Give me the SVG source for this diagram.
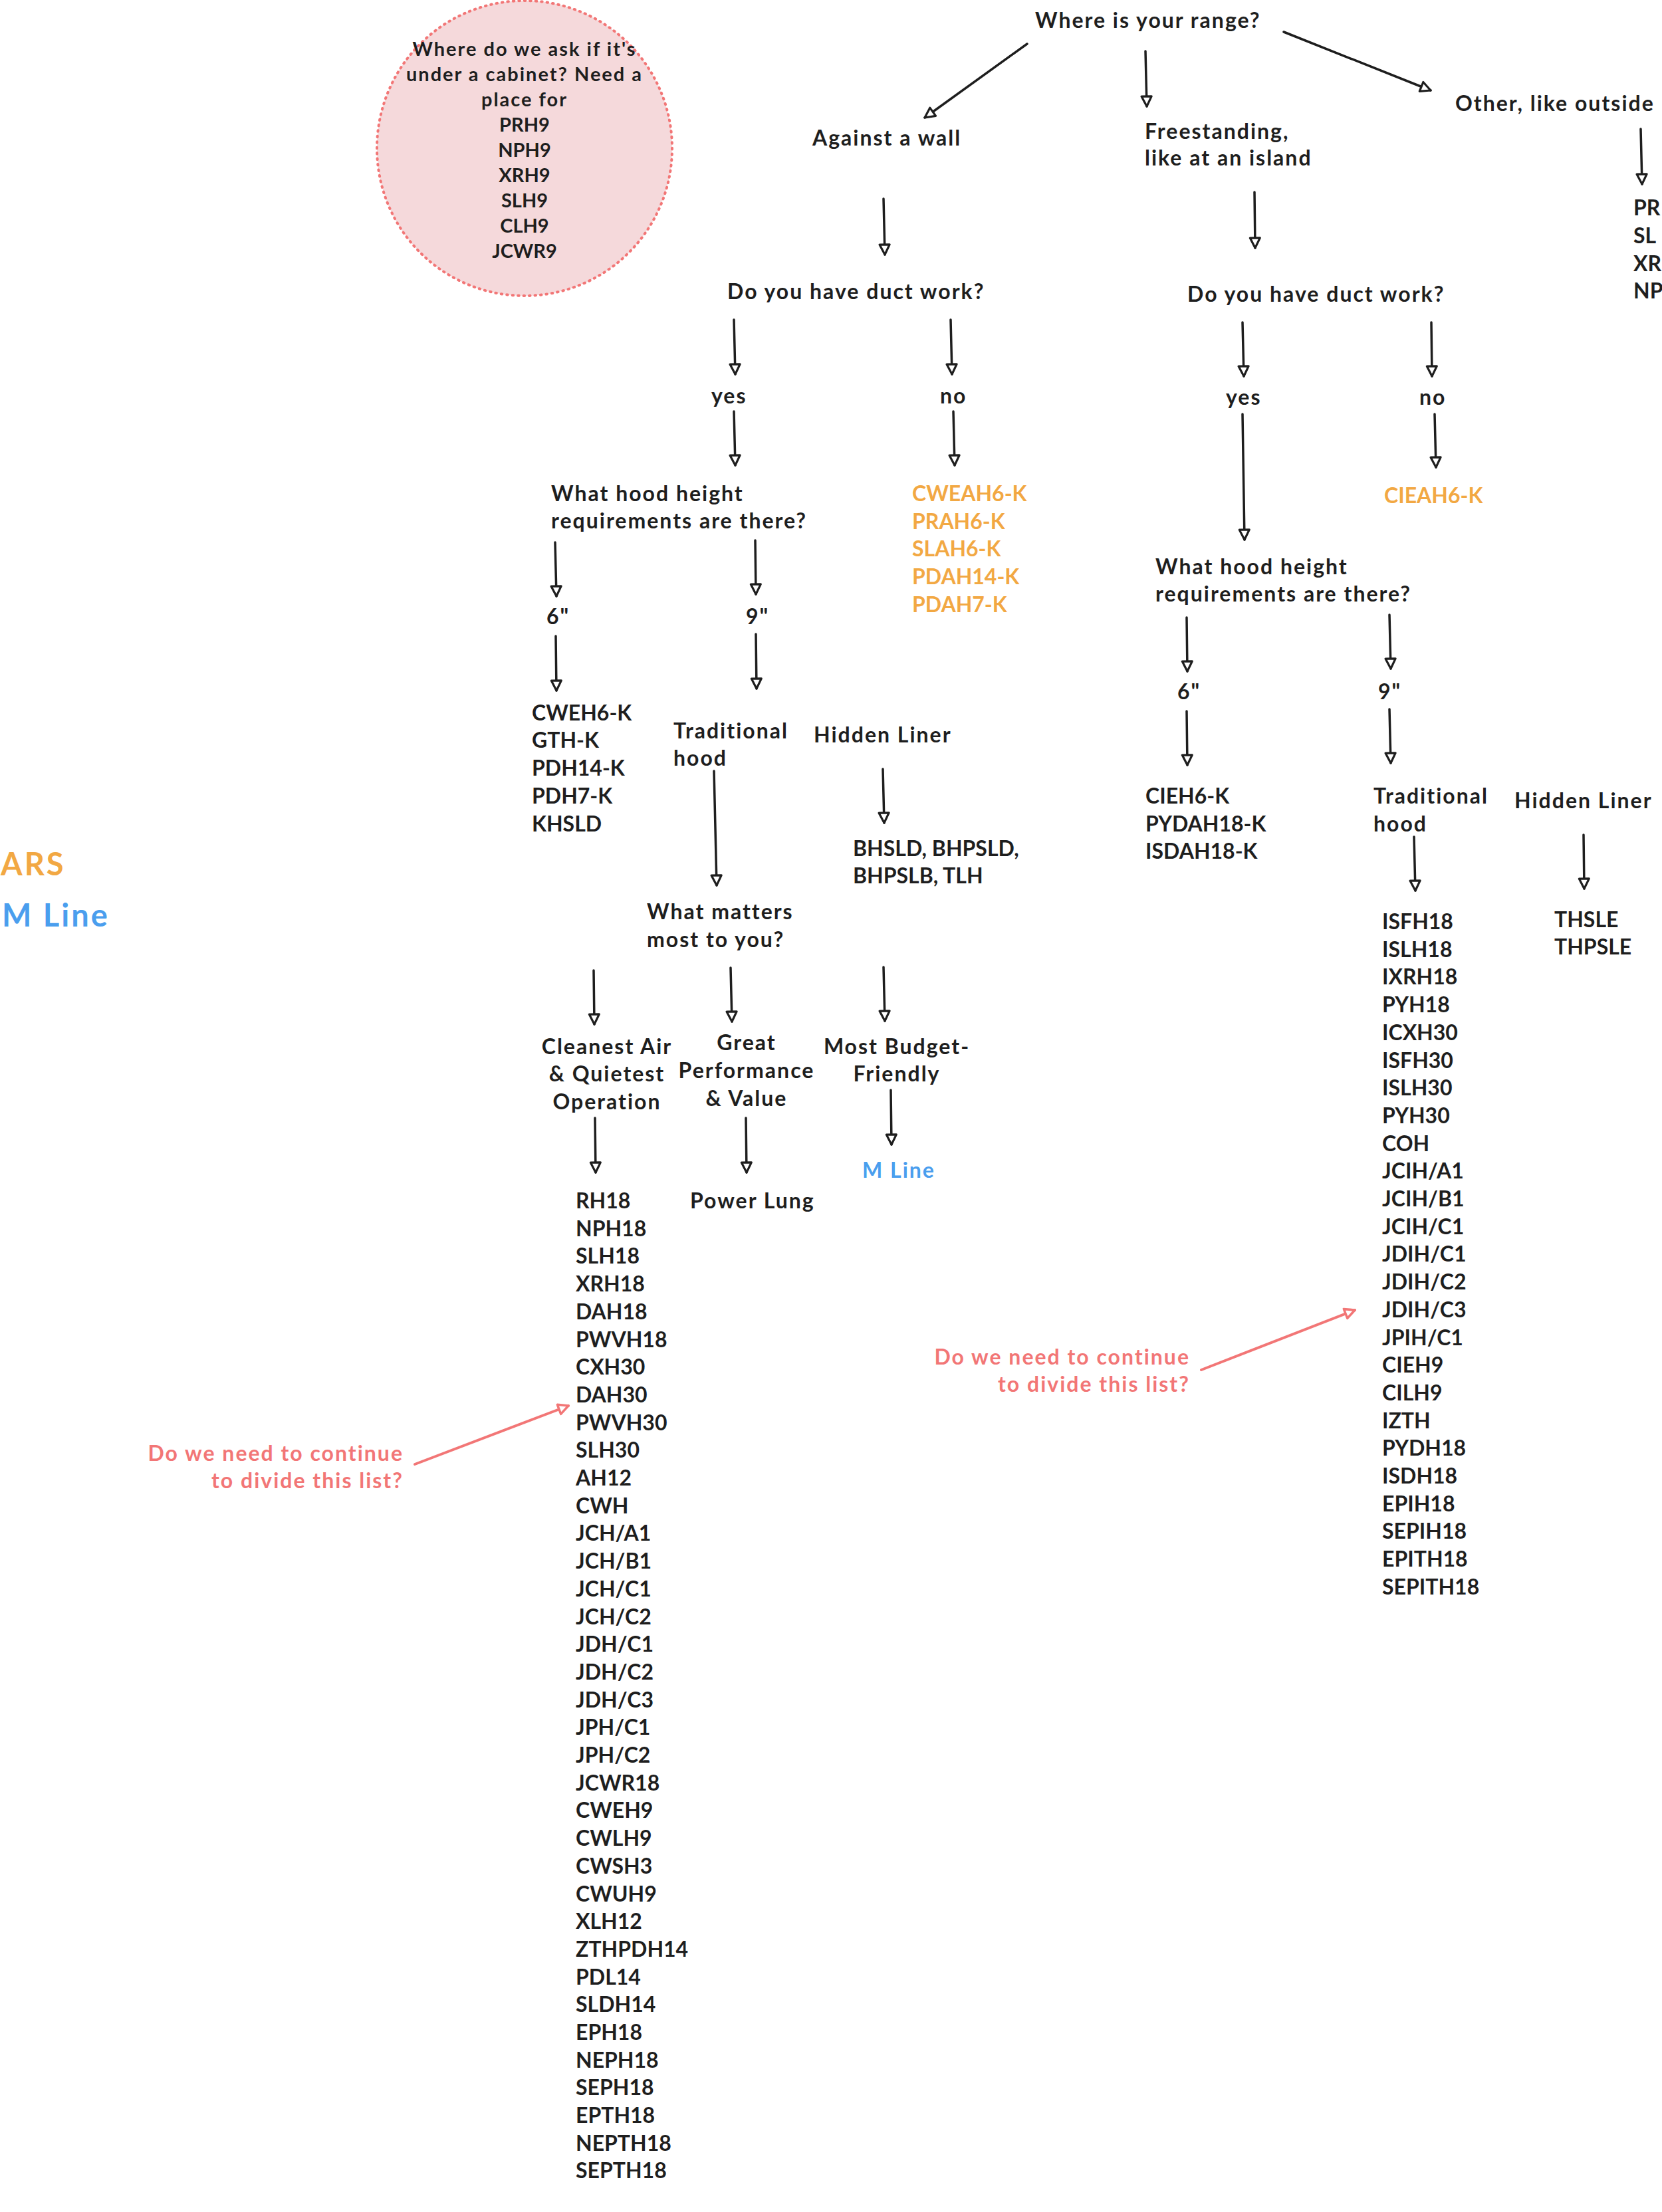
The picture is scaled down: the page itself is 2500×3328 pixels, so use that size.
<svg xmlns="http://www.w3.org/2000/svg" width="2500" height="3328" viewBox="0 0 2500 3328">
<style>
text{font-family:Lato,"Open Sans","Liberation Sans",sans-serif;font-weight:700;font-size:32px;fill:#1e1e1e;dominant-baseline:central;letter-spacing:2px}
.k{letter-spacing:0}
.c{text-anchor:middle}
.o{fill:#f2a843}
.b{fill:#4a9eee}
.r{fill:#f27676;text-anchor:end}
.big{font-size:47px;letter-spacing:3px}
.sm{font-size:29px}
.a{stroke:#1e1e1e;stroke-width:3.5;fill:none;stroke-linecap:round;marker-end:url(#ah)}
.ra{stroke:#f27676;stroke-width:4;fill:none;stroke-linecap:round;marker-end:url(#rh)}
</style>
<defs>
<marker id="ah" viewBox="0 0 20 20" refX="17" refY="10" markerWidth="20" markerHeight="20" markerUnits="userSpaceOnUse" orient="auto">
<path d="M2,2.5 L17,10 L2,17.5 Z" fill="#fff" stroke="#1e1e1e" stroke-width="3.2" stroke-linejoin="round"/>
</marker>
<marker id="rh" viewBox="0 0 20 20" refX="17" refY="10" markerWidth="20" markerHeight="20" markerUnits="userSpaceOnUse" orient="auto">
<path d="M2,2.5 L17,10 L2,17.5 Z" fill="#fff" stroke="#f27676" stroke-width="3.5" stroke-linejoin="round"/>
</marker>
</defs>
<rect width="2500" height="3328" fill="#fff"/>

<g id="note-circle">
<circle cx="789" cy="223" r="222" fill="#f5d9db" stroke="#f27676" stroke-width="4" stroke-dasharray="1.5 7" stroke-linecap="round"/>
<text class="c sm" x="789" y="72">Where do we ask if it's</text>
<text class="c sm" x="789" y="110">under a cabinet? Need a</text>
<text class="c sm" x="789" y="148">place for</text>
<text class="c sm k" x="789" y="186">PRH9</text>
<text class="c sm k" x="789" y="224">NPH9</text>
<text class="c sm k" x="789" y="262">XRH9</text>
<text class="c sm k" x="789" y="300">SLH9</text>
<text class="c sm k" x="789" y="338">CLH9</text>
<text class="c sm k" x="789" y="376">JCWR9</text>
</g>

<g id="legend">
<text class="o big" x="1" y="1299">ARS</text>
<text class="b big" x="3" y="1376">M Line</text>
</g>

<g id="root"><text x="1557" y="29">Where is your range?</text></g>
<g id="wall"><text x="1222" y="206">Against a wall</text></g>
<g id="free"><text x="1722" y="196">Freestanding,</text><text x="1722" y="236">like at an island</text></g>
<g id="other"><text x="2189" y="154">Other, like outside</text></g>
<g id="other-list" class="k"><text class="k" x="2457" y="311">PR</text><text class="k" x="2457" y="353">SL</text><text class="k" x="2457" y="395">XR</text><text class="k" x="2457" y="436">NP</text></g>

<g id="duct-l"><text x="1094" y="437">Do you have duct work?</text></g>
<g id="yes-l"><text x="1070" y="594">yes</text></g>
<g id="no-l"><text x="1414" y="594">no</text></g>
<g id="height-l"><text x="829" y="741">What hood height</text><text x="829" y="782">requirements are there?</text></g>
<g id="ars-l">
<text class="o k" x="1372" y="741">CWEAH6-K</text>
<text class="o k" x="1372" y="783">PRAH6-K</text>
<text class="o k" x="1372" y="824">SLAH6-K</text>
<text class="o k" x="1372" y="866">PDAH14-K</text>
<text class="o k" x="1372" y="908">PDAH7-K</text>
</g>
<g id="six-l"><text x="822" y="926">6"</text></g>
<g id="nine-l"><text x="1122" y="926">9"</text></g>
<g id="six-list-l">
<text class="k" x="800" y="1071">CWEH6-K</text>
<text class="k" x="800" y="1112">GTH-K</text>
<text class="k" x="800" y="1154">PDH14-K</text>
<text class="k" x="800" y="1196">PDH7-K</text>
<text class="k" x="800" y="1238">KHSLD</text>
</g>
<g id="trad-l"><text x="1013" y="1098">Traditional</text><text x="1013" y="1139">hood</text></g>
<g id="hidden-l"><text x="1224" y="1104">Hidden Liner</text></g>
<g id="hidden-list-l"><text class="k" x="1283" y="1275">BHSLD, BHPSLD,</text><text class="k" x="1283" y="1316">BHPSLB, TLH</text></g>
<g id="matters"><text x="973" y="1370">What matters</text><text x="973" y="1412">most to you?</text></g>
<g id="clean"><text class="c" x="913" y="1573">Cleanest Air</text><text class="c" x="913" y="1614">&amp; Quietest</text><text class="c" x="913" y="1656">Operation</text></g>
<g id="great"><text class="c" x="1123" y="1567">Great</text><text class="c" x="1123" y="1609">Performance</text><text class="c" x="1123" y="1651">&amp; Value</text></g>
<g id="budget"><text class="c" x="1349" y="1573">Most Budget-</text><text class="c" x="1349" y="1614">Friendly</text></g>
<g id="mline"><text class="b" x="1297" y="1759">M Line</text></g>
<g id="powerlung"><text x="1038" y="1805">Power Lung</text></g>
<g id="clean-list">
<text class="k" x="866" y="1805">RH18<tspan x="866" dy="41.7">NPH18</tspan><tspan x="866" dy="41.7">SLH18</tspan><tspan x="866" dy="41.7">XRH18</tspan><tspan x="866" dy="41.7">DAH18</tspan><tspan x="866" dy="41.7">PWVH18</tspan><tspan x="866" dy="41.7">CXH30</tspan><tspan x="866" dy="41.7">DAH30</tspan><tspan x="866" dy="41.7">PWVH30</tspan><tspan x="866" dy="41.7">SLH30</tspan><tspan x="866" dy="41.7">AH12</tspan><tspan x="866" dy="41.7">CWH</tspan><tspan x="866" dy="41.7">JCH/A1</tspan><tspan x="866" dy="41.7">JCH/B1</tspan><tspan x="866" dy="41.7">JCH/C1</tspan><tspan x="866" dy="41.7">JCH/C2</tspan><tspan x="866" dy="41.7">JDH/C1</tspan><tspan x="866" dy="41.7">JDH/C2</tspan><tspan x="866" dy="41.7">JDH/C3</tspan><tspan x="866" dy="41.7">JPH/C1</tspan><tspan x="866" dy="41.7">JPH/C2</tspan><tspan x="866" dy="41.7">JCWR18</tspan><tspan x="866" dy="41.7">CWEH9</tspan><tspan x="866" dy="41.7">CWLH9</tspan><tspan x="866" dy="41.7">CWSH3</tspan><tspan x="866" dy="41.7">CWUH9</tspan><tspan x="866" dy="41.7">XLH12</tspan><tspan x="866" dy="41.7">ZTHPDH14</tspan><tspan x="866" dy="41.7">PDL14</tspan><tspan x="866" dy="41.7">SLDH14</tspan><tspan x="866" dy="41.7">EPH18</tspan><tspan x="866" dy="41.7">NEPH18</tspan><tspan x="866" dy="41.7">SEPH18</tspan><tspan x="866" dy="41.7">EPTH18</tspan><tspan x="866" dy="41.7">NEPTH18</tspan><tspan x="866" dy="41.7">SEPTH18</tspan></text>
</g>

<g id="duct-r"><text x="1786" y="441">Do you have duct work?</text></g>
<g id="yes-r"><text x="1844" y="596">yes</text></g>
<g id="no-r"><text x="2135" y="596">no</text></g>
<g id="ars-r"><text class="o k" x="2082" y="744">CIEAH6-K</text></g>
<g id="height-r"><text x="1738" y="851">What hood height</text><text x="1738" y="892">requirements are there?</text></g>
<g id="six-r"><text x="1771" y="1039">6"</text></g>
<g id="nine-r"><text x="2073" y="1039">9"</text></g>
<g id="six-list-r"><text class="k" x="1723" y="1196">CIEH6-K</text><text class="k" x="1723" y="1238">PYDAH18-K</text><text class="k" x="1723" y="1279">ISDAH18-K</text></g>
<g id="trad-r"><text x="2066" y="1196">Traditional</text><text x="2066" y="1238">hood</text></g>
<g id="hidden-r"><text x="2278" y="1203">Hidden Liner</text></g>
<g id="hidden-list-r"><text class="k" x="2338" y="1382">THSLE</text><text class="k" x="2338" y="1423">THPSLE</text></g>
<g id="trad-list-r">
<text class="k" x="2079" y="1385">ISFH18<tspan x="2079" dy="41.7">ISLH18</tspan><tspan x="2079" dy="41.7">IXRH18</tspan><tspan x="2079" dy="41.7">PYH18</tspan><tspan x="2079" dy="41.7">ICXH30</tspan><tspan x="2079" dy="41.7">ISFH30</tspan><tspan x="2079" dy="41.7">ISLH30</tspan><tspan x="2079" dy="41.7">PYH30</tspan><tspan x="2079" dy="41.7">COH</tspan><tspan x="2079" dy="41.7">JCIH/A1</tspan><tspan x="2079" dy="41.7">JCIH/B1</tspan><tspan x="2079" dy="41.7">JCIH/C1</tspan><tspan x="2079" dy="41.7">JDIH/C1</tspan><tspan x="2079" dy="41.7">JDIH/C2</tspan><tspan x="2079" dy="41.7">JDIH/C3</tspan><tspan x="2079" dy="41.7">JPIH/C1</tspan><tspan x="2079" dy="41.7">CIEH9</tspan><tspan x="2079" dy="41.7">CILH9</tspan><tspan x="2079" dy="41.7">IZTH</tspan><tspan x="2079" dy="41.7">PYDH18</tspan><tspan x="2079" dy="41.7">ISDH18</tspan><tspan x="2079" dy="41.7">EPIH18</tspan><tspan x="2079" dy="41.7">SEPIH18</tspan><tspan x="2079" dy="41.7">EPITH18</tspan><tspan x="2079" dy="41.7">SEPITH18</tspan></text>
</g>

<g id="comment-r"><text class="r" x="1790" y="2040">Do we need to continue</text><text class="r" x="1790" y="2081">to divide this list?</text></g>
<g id="comment-l"><text class="r" x="607" y="2185">Do we need to continue</text><text class="r" x="607" y="2226">to divide this list?</text></g>

<g id="connectors">
<path class="a" d="M1545,66 L1391,177"/>
<path class="a" d="M1723,77 L1725,160"/>
<path class="a" d="M1931,48 L2152,136"/>
<path class="a" d="M2468,194 L2470,277"/>
<path class="a" d="M1329,299 L1331,383"/>
<path class="a" d="M1887,289 L1888,373"/>
<path class="a" d="M1104,481 L1106,563"/>
<path class="a" d="M1430,481 L1432,563"/>
<path class="a" d="M1104,619 L1106,700"/>
<path class="a" d="M1434,619 L1436,700"/>
<path class="a" d="M835,816 L837,897"/>
<path class="a" d="M1136,813 L1137,894"/>
<path class="a" d="M836,957 L837,1039"/>
<path class="a" d="M1137,954 L1138,1036"/>
<path class="a" d="M1074,1160 L1078,1332"/>
<path class="a" d="M1328,1157 L1330,1238"/>
<path class="a" d="M893,1460 L894,1541"/>
<path class="a" d="M1099,1456 L1101,1537"/>
<path class="a" d="M1329,1455 L1331,1536"/>
<path class="a" d="M895,1682 L896,1764"/>
<path class="a" d="M1122,1682 L1123,1764"/>
<path class="a" d="M1340,1640 L1341,1722"/>
<path class="a" d="M1869,485 L1871,566"/>
<path class="a" d="M2153,485 L2154,566"/>
<path class="a" d="M1869,623 L1872,812"/>
<path class="a" d="M2158,623 L2160,703"/>
<path class="a" d="M1785,929 L1786,1010"/>
<path class="a" d="M2090,925 L2092,1006"/>
<path class="a" d="M1785,1070 L1786,1151"/>
<path class="a" d="M2090,1067 L2092,1148"/>
<path class="a" d="M2127,1259 L2129,1340"/>
<path class="a" d="M2382,1256 L2383,1337"/>
<path class="ra" d="M1807,2061 L2038,1971"/>
<path class="ra" d="M624,2203 L855,2115"/>
</g>
</svg>
